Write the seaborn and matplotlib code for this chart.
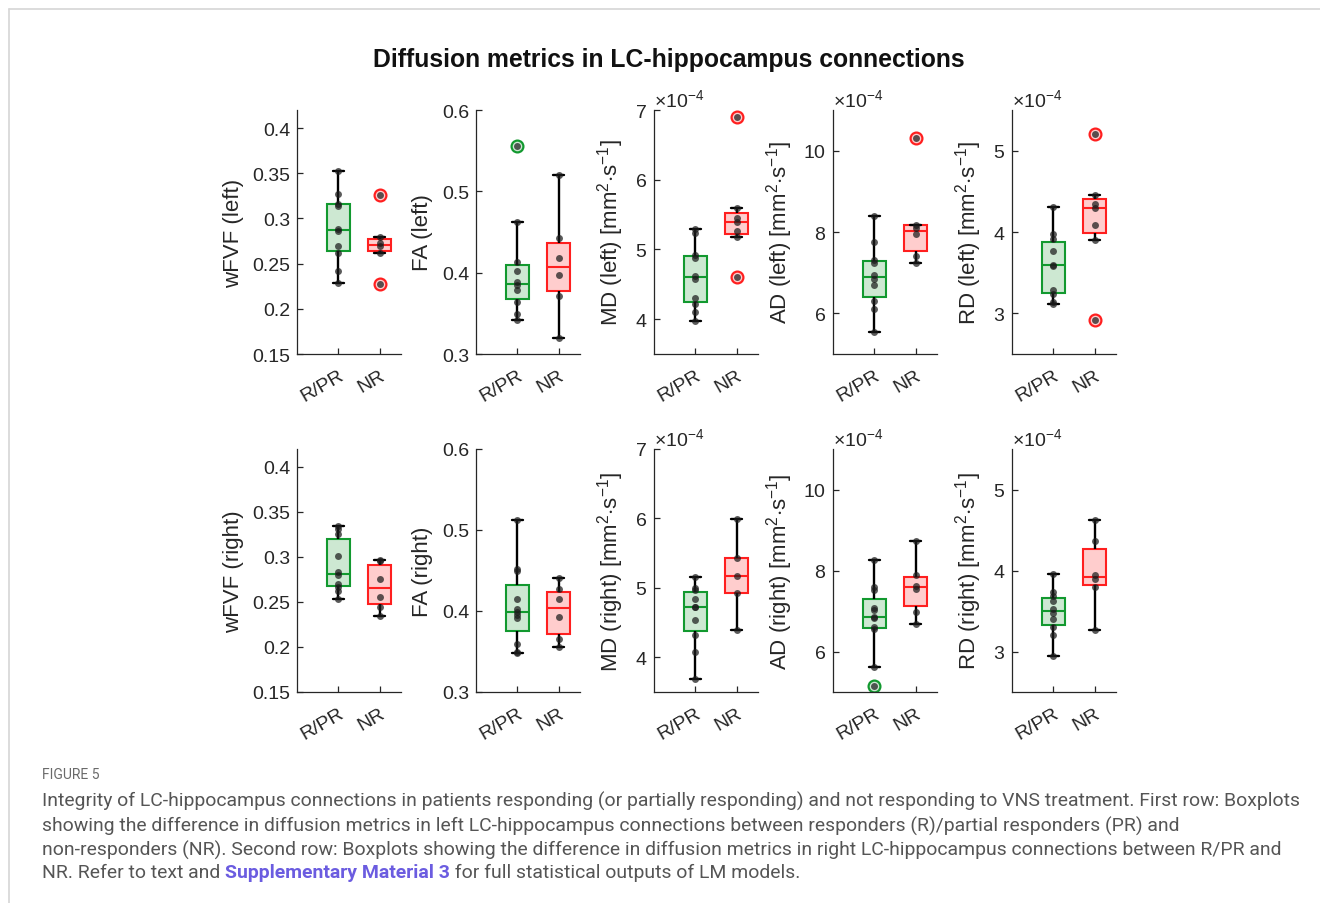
import numpy as np
import pandas as pd
import matplotlib
matplotlib.use("Agg")
import matplotlib.pyplot as plt
import seaborn as sns
from matplotlib.ticker import ScalarFormatter, FormatStrFormatter
from matplotlib.lines import Line2D

# ---------------- data ----------------
groups = ["R/PR", "NR"]

# first row: left LC-hippocampus connections
wfvf_left_rpr = [0.352, 0.3265, 0.316, 0.314, 0.288, 0.286, 0.269, 0.262, 0.242, 0.229]
wfvf_left_nr = [0.326, 0.279, 0.2725, 0.269, 0.262, 0.228]
fa_left_rpr = [0.556, 0.462, 0.4127, 0.402, 0.388, 0.385, 0.3785, 0.3645, 0.349, 0.342]
fa_left_nr = [0.520, 0.443, 0.418, 0.397, 0.371, 0.320]
md_left_rpr = [5.30e-4, 5.24e-4, 4.92e-4, 4.88e-4, 4.62e-4, 4.58e-4, 4.30e-4, 4.22e-4, 4.10e-4, 3.98e-4]
md_left_nr = [6.90e-4, 5.60e-4, 5.45e-4, 5.40e-4, 5.27e-4, 5.18e-4, 4.60e-4]
ad_left_rpr = [8.40e-4, 7.75e-4, 7.30e-4, 7.25e-4, 6.95e-4, 6.85e-4, 6.70e-4, 6.30e-4, 6.10e-4, 5.55e-4]
ad_left_nr = [10.30e-4, 8.18e-4, 8.10e-4, 7.95e-4, 7.40e-4, 7.25e-4]
rd_left_rpr = [4.31e-4, 3.97e-4, 3.92e-4, 3.77e-4, 3.60e-4, 3.58e-4, 3.29e-4, 3.24e-4, 3.14e-4, 3.12e-4]
rd_left_nr = [5.20e-4, 4.45e-4, 4.35e-4, 4.30e-4, 4.08e-4, 3.90e-4, 2.92e-4]

# second row: right LC-hippocampus connections
wfvf_right_rpr = [0.334, 0.331, 0.326, 0.301, 0.283, 0.280, 0.270, 0.267, 0.262, 0.253]
wfvf_right_nr = [0.297, 0.296, 0.276, 0.256, 0.245, 0.235]
fa_right_rpr = [0.512, 0.452, 0.450, 0.415, 0.402, 0.399, 0.395, 0.391, 0.359, 0.350, 0.348]
fa_right_nr = [0.441, 0.427, 0.415, 0.393, 0.365, 0.356]
md_right_rpr = [5.15e-4, 5.00e-4, 4.97e-4, 4.84e-4, 4.73e-4, 4.72e-4, 4.53e-4, 4.32e-4, 4.07e-4, 3.69e-4]
md_right_nr = [5.99e-4, 5.43e-4, 5.17e-4, 4.92e-4, 4.40e-4]
ad_right_rpr = [8.26e-4, 7.60e-4, 7.52e-4, 7.08e-4, 7.02e-4, 6.84e-4, 6.82e-4, 6.60e-4, 6.55e-4, 5.62e-4, 5.15e-4]
ad_right_nr = [8.72e-4, 7.90e-4, 7.62e-4, 7.55e-4, 6.98e-4, 6.69e-4]
rd_right_rpr = [3.96e-4, 3.74e-4, 3.68e-4, 3.62e-4, 3.52e-4, 3.48e-4, 3.40e-4, 3.30e-4, 3.20e-4, 2.95e-4]
rd_right_nr = [4.62e-4, 4.37e-4, 3.94e-4, 3.90e-4, 3.80e-4, 3.27e-4]

ylabels_left = ["wFVF (left)", "FA (left)",
                "MD (left) [mm$^{2}$$\\cdot$s$^{-1}$]",
                "AD (left) [mm$^{2}$$\\cdot$s$^{-1}$]",
                "RD (left) [mm$^{2}$$\\cdot$s$^{-1}$]"]
ylabels_right = ["wFVF (right)", "FA (right)",
                 "MD (right) [mm$^{2}$$\\cdot$s$^{-1}$]",
                 "AD (right) [mm$^{2}$$\\cdot$s$^{-1}$]",
                 "RD (right) [mm$^{2}$$\\cdot$s$^{-1}$]"]

wfvf_ticks = [0.15, 0.2, 0.25, 0.3, 0.35, 0.4]
fa_ticks = [0.3, 0.4, 0.5, 0.6]
md_ticks = [4e-4, 5e-4, 6e-4, 7e-4]
ad_ticks = [6e-4, 8e-4, 10e-4]
rd_ticks = [3e-4, 4e-4, 5e-4]
sci_exponent = -4

title = "Diffusion metrics in LC-hippocampus connections"
fig_label = "FIGURE 5"
caption_lines = [
    "Integrity of LC-hippocampus connections in patients responding (or partially responding) and not responding to VNS treatment. First row: Boxplots",
    "showing the difference in diffusion metrics in left LC-hippocampus connections between responders (R)/partial responders (PR) and",
    "non-responders (NR). Second row: Boxplots showing the difference in diffusion metrics in right LC-hippocampus connections between R/PR and",
]
caption_last = ["NR. Refer to text and ", "Supplementary Material 3", " for full statistical outputs of LM models."]

# ---------------- style ----------------
sns.set_style("white")
plt.rcParams["font.family"] = ["Liberation Sans", "DejaVu Sans"]
plt.rcParams["mathtext.fontset"] = "custom"
plt.rcParams["mathtext.rm"] = "Liberation Sans"
plt.rcParams["mathtext.it"] = "Liberation Sans:italic"
plt.rcParams["mathtext.bf"] = "Liberation Sans:bold"

GREEN = "#12992f"
GREEN_FILL = "#cde8d2"
RED = "#ff1f1f"
RED_FILL = "#ffcdcd"
AX_COL = "#262626"
W, H = 1320, 904

fig = plt.figure(figsize=(W / 100, H / 100), dpi=100)
fig.patch.set_facecolor("white")

col_left = [297, 476, 654, 833, 1012]
ax_w = 103.5
rows = [(111, 355), (450, 693)]

panels = [
    [(wfvf_left_rpr, wfvf_left_nr, ylabels_left[0], (0.15, 0.42), wfvf_ticks, False),
     (fa_left_rpr, fa_left_nr, ylabels_left[1], (0.3, 0.6), fa_ticks, False),
     (md_left_rpr, md_left_nr, ylabels_left[2], (3.5e-4, 7e-4), md_ticks, True),
     (ad_left_rpr, ad_left_nr, ylabels_left[3], (5.0e-4, 11e-4), ad_ticks, True),
     (rd_left_rpr, rd_left_nr, ylabels_left[4], (2.5e-4, 5.5e-4), rd_ticks, True)],
    [(wfvf_right_rpr, wfvf_right_nr, ylabels_right[0], (0.15, 0.42), wfvf_ticks, False),
     (fa_right_rpr, fa_right_nr, ylabels_right[1], (0.3, 0.6), fa_ticks, False),
     (md_right_rpr, md_right_nr, ylabels_right[2], (3.5e-4, 7e-4), md_ticks, True),
     (ad_right_rpr, ad_right_nr, ylabels_right[3], (5.0e-4, 11e-4), ad_ticks, True),
     (rd_right_rpr, rd_right_nr, ylabels_right[4], (2.5e-4, 5.5e-4), rd_ticks, True)],
]


def draw_panel(ax, rpr, nr, ylabel, ylim, yticks, sci):
    df = pd.DataFrame({"group": [groups[0]] * len(rpr) + [groups[1]] * len(nr),
                       "value": list(rpr) + list(nr)})
    for grp, edge, face in [(groups[0], GREEN, GREEN_FILL), (groups[1], RED, RED_FILL)]:
        sub = df[df["group"] == grp]
        sns.boxplot(data=sub, x="group", y="value", order=groups, ax=ax, width=0.55,
                    color=face,
                    boxprops=dict(facecolor=face, edgecolor=edge, linewidth=1.5),
                    medianprops=dict(color=edge, linewidth=1.5),
                    whiskerprops=dict(color="black", linewidth=1.7),
                    capprops=dict(color="black", linewidth=1.7),
                    flierprops=dict(marker="o", markersize=8.5, markeredgecolor=edge,
                                    markerfacecolor=face, markeredgewidth=1.6))
    sns.stripplot(data=df, x="group", y="value", order=groups, ax=ax, jitter=False,
                  color="#1c1c1c", alpha=0.72, size=5, zorder=6, linewidth=0)
    ax.set_xlim(-1, 1.5)
    ax.set_ylim(*ylim)
    ax.set_yticks(yticks)
    ax.set_xticks([0, 1])
    ax.set_xticklabels(groups, rotation=30, ha="right", va="top", rotation_mode="anchor")
    ax.set_xlabel("")
    ax.set_ylabel(ylabel, fontsize=16, color=AX_COL, labelpad=6)
    for s in ["top", "right"]:
        ax.spines[s].set_visible(False)
    for s in ["left", "bottom"]:
        ax.spines[s].set_color(AX_COL)
        ax.spines[s].set_linewidth(0.9)
    ax.tick_params(axis="both", direction="in", length=4, width=0.9, colors=AX_COL,
                   labelsize=14, left=True, bottom=True)
    ax.tick_params(axis="y", pad=5)
    ax.tick_params(axis="x", pad=9)
    if sci:
        f = ScalarFormatter(useMathText=True)
        f.set_powerlimits((sci_exponent, sci_exponent))
        ax.yaxis.set_major_formatter(f)
        ax.yaxis.get_offset_text().set_fontsize(14)
        ax.yaxis.get_offset_text().set_color(AX_COL)
    else:
        ax.yaxis.set_major_formatter(FormatStrFormatter("%g"))
    ax.set_facecolor("none")


for r, (top, bottom) in enumerate(rows):
    for c, left in enumerate(col_left):
        ax = fig.add_axes([left / W, 1 - bottom / H, ax_w / W, (bottom - top) / H])
        draw_panel(ax, *panels[r][c])

# title
fig.text(669 / W, 1 - 60 / H, title, ha="center", va="center", fontsize=17.8,
         fontweight="bold", color="#111111")

# frame lines
fig.add_artist(Line2D([9 / W, 9 / W], [0, 1 - 10 / H], transform=fig.transFigure,
                      color="#d6d6d6", lw=1.2))
fig.add_artist(Line2D([9 / W, 1], [1 - 10 / H, 1 - 10 / H], transform=fig.transFigure,
                      color="#d6d6d6", lw=1.2))

# caption
CAP_COL = "#555555"
cap_font = ["Roboto", "DejaVu Sans"]
fig.text(42 / W, 1 - 775 / H, fig_label, fontsize=10, color="#6a6a6a", va="center",
         family=cap_font)
renderer = fig.canvas.get_renderer()
probe = fig.text(0, 0, caption_lines[0], fontsize=12, family=cap_font)
wpx = probe.get_window_extent(renderer).width
probe.remove()
cap_fs = 12 * 1248 / wpx
line_y = [801, 826, 850, 873]
for ly, txt in zip(line_y[:3], caption_lines):
    fig.text(42 / W, 1 - ly / H, txt, fontsize=cap_fs, color=CAP_COL, va="center",
             family=cap_font)
x = 42
for i, part in enumerate(caption_last):
    bold = i == 1
    t = fig.text(x / W, 1 - line_y[3] / H, part, fontsize=cap_fs, va="center",
                 family=cap_font, color="#6b5ce0" if bold else CAP_COL,
                 fontweight="bold" if bold else "normal")
    x += t.get_window_extent(renderer).width

fig.savefig("out.png", dpi=100, facecolor="white")
